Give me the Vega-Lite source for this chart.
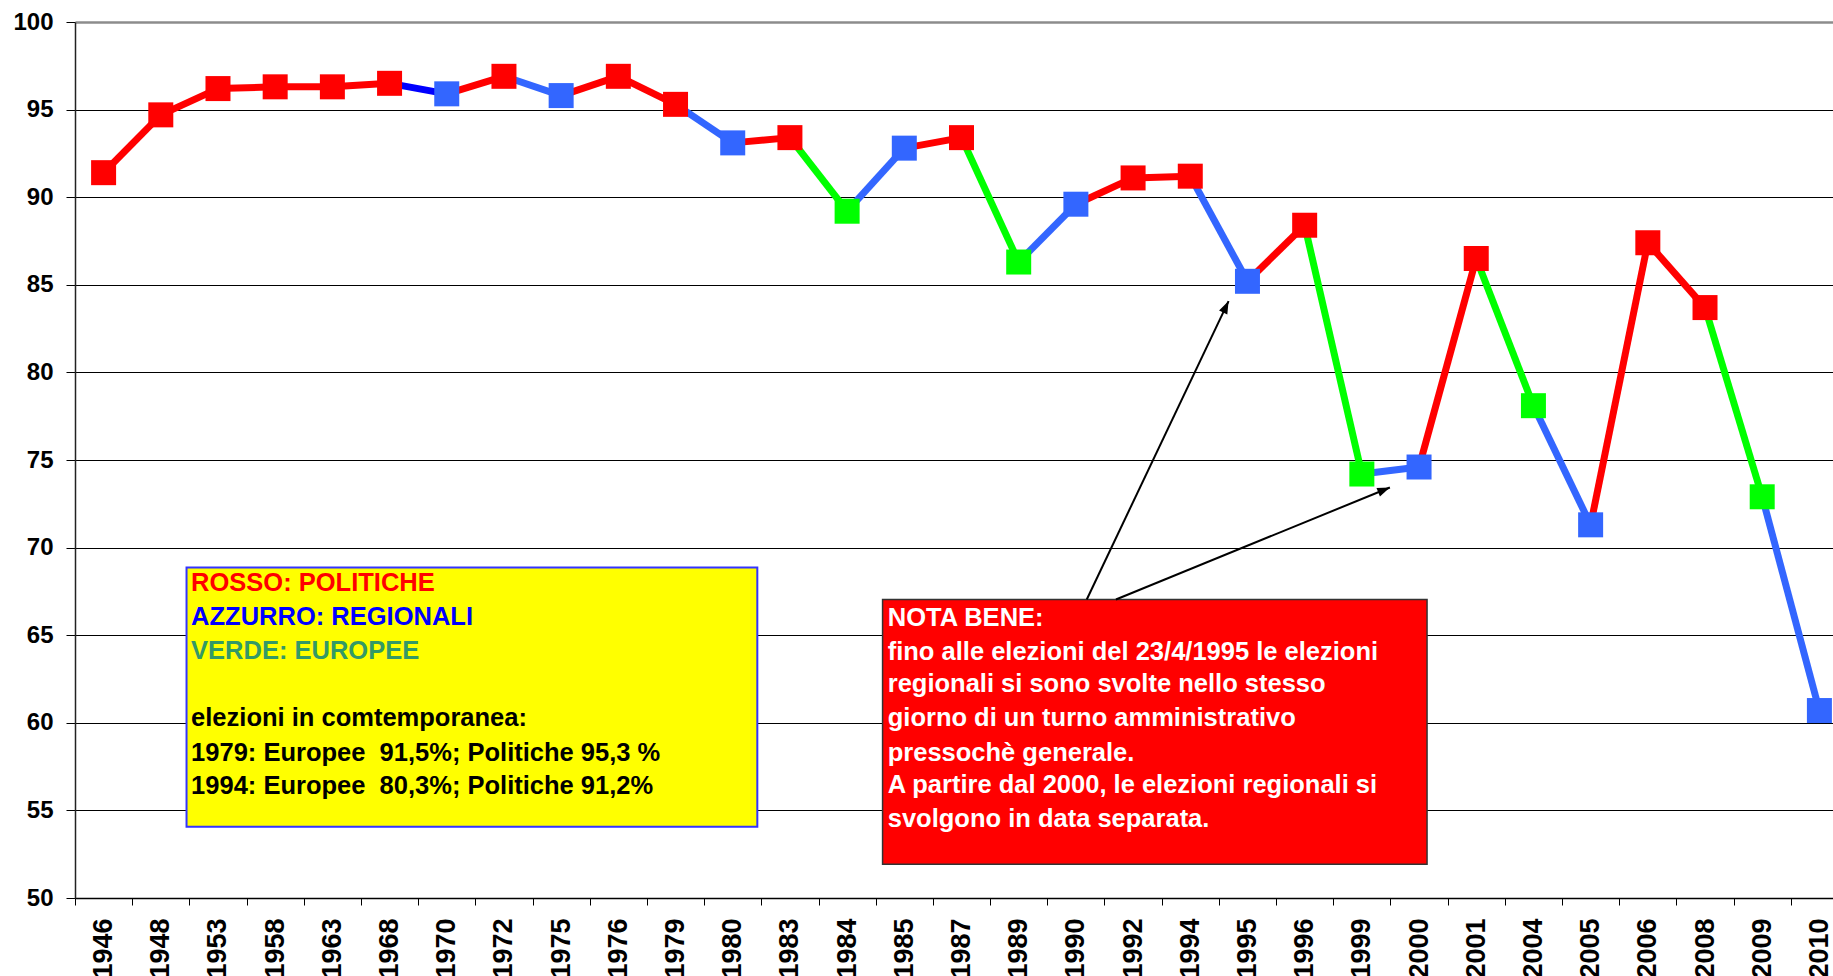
{
  "$schema": "https://vega.github.io/schema/vega-lite/v6.json",
  "autosize": {"type": "none"},
  "padding": {"left": 75, "top": 22, "right": -15, "bottom": 78},
  "width": 1773,
  "height": 876,
  "background": "#FFFFFF",
  "title": {
    "text": "TOSCANA: PERCENTUALE DEI VOTANTI ALLE ELEZIONI POLITICHE, REGIONALI ED EUROPEE (1946-2010)",
    "font": "Liberation Sans",
    "fontSize": 28.5,
    "fontWeight": "bold",
    "color": "#000000",
    "anchor": "middle",
    "frame": "group",
    "baseline": "alphabetic",
    "offset": 3,
    "dx": -31,
    "dy": 1
  },
  "config": {
    "view": {"stroke": null},
    "axisX": {
      "labelAngle": 270,
      "labelFont": "Liberation Sans",
      "labelFontSize": 27,
      "labelFontWeight": "bold",
      "labelColor": "#000000",
      "labelOverlap": false,
      "labelBound": false,
      "tickBand": "extent",
      "tickSize": 7,
      "tickColor": "#000000",
      "tickWidth": 1,
      "domainColor": "#000000",
      "domainWidth": 1.5,
      "labelPadding": 13,
      "grid": false
    },
    "axisY": {
      "labelFont": "Liberation Sans",
      "labelFontSize": 24,
      "labelFontWeight": "bold",
      "labelColor": "#000000",
      "tickSize": 9,
      "tickColor": "#000000",
      "tickWidth": 1,
      "domainColor": "#222222",
      "domainWidth": 1.5,
      "labelPadding": 13,
      "grid": true,
      "gridOpacity": 1
    },
    "text": {"font": "Liberation Sans", "fontSize": 25.5, "fontWeight": "bold", "align": "left", "baseline": "middle"}
  },
  "datasets": {
    "votes": [
      {"year": "1946", "value": 91.4, "type": "politiche"},
      {"year": "1948", "value": 94.7, "type": "politiche"},
      {"year": "1953", "value": 96.2, "type": "politiche"},
      {"year": "1958", "value": 96.3, "type": "politiche"},
      {"year": "1963", "value": 96.3, "type": "politiche"},
      {"year": "1968", "value": 96.5, "type": "politiche"},
      {"year": "1970", "value": 95.9, "type": "regionali"},
      {"year": "1972", "value": 96.9, "type": "politiche"},
      {"year": "1975", "value": 95.8, "type": "regionali"},
      {"year": "1976", "value": 96.9, "type": "politiche"},
      {"year": "1979", "value": 95.3, "type": "politiche"},
      {"year": "1980", "value": 93.1, "type": "regionali"},
      {"year": "1983", "value": 93.4, "type": "politiche"},
      {"year": "1984", "value": 89.2, "type": "europee"},
      {"year": "1985", "value": 92.8, "type": "regionali"},
      {"year": "1987", "value": 93.4, "type": "politiche"},
      {"year": "1989", "value": 86.3, "type": "europee"},
      {"year": "1990", "value": 89.6, "type": "regionali"},
      {"year": "1992", "value": 91.1, "type": "politiche"},
      {"year": "1994", "value": 91.2, "type": "politiche"},
      {"year": "1995", "value": 85.2, "type": "regionali"},
      {"year": "1996", "value": 88.4, "type": "politiche"},
      {"year": "1999", "value": 74.2, "type": "europee"},
      {"year": "2000", "value": 74.6, "type": "regionali"},
      {"year": "2001", "value": 86.5, "type": "politiche"},
      {"year": "2004", "value": 78.1, "type": "europee"},
      {"year": "2005", "value": 71.3, "type": "regionali"},
      {"year": "2006", "value": 87.4, "type": "politiche"},
      {"year": "2008", "value": 83.7, "type": "politiche"},
      {"year": "2009", "value": 72.9, "type": "europee"},
      {"year": "2010", "value": 60.7, "type": "regionali"}
    ],
    "arrows": [
      {"target": "1995", "x0": 17.69, "y0": 67.04, "x1": 20.17, "y1": 84.07},
      {"target": "2000", "x0": 18.2, "y0": 67.04, "x1": 22.99, "y1": 73.43}
    ]
  },
  "resolve": {"scale": {"x": "independent", "y": "independent"}},
  "layer": [
    {
      "data": {"name": "votes"},
      "transform": [
        {"window": [{"op": "lag", "field": "value", "as": "prev_value"}, {"op": "lag", "field": "year", "as": "prev_year"}], "sort": [{"field": "year", "order": "ascending"}]}
      ],
      "encoding": {
        "x": {"field": "year", "type": "ordinal", "title": null, "scale": {"type": "band", "paddingInner": 0, "paddingOuter": 0}},
        "y": {
          "field": "value", "type": "quantitative", "title": null,
          "scale": {"domain": [50, 100], "nice": false, "zero": false},
          "axis": {
            "values": [50, 55, 60, 65, 70, 75, 80, 85, 90, 95, 100],
            "gridColor": {"condition": {"test": "datum.value === 100", "value": "#8C8C8C"}, "value": "#000000"},
            "gridWidth": {"condition": {"test": "datum.value === 100", "value": 2.5}, "value": 1}
          }
        }
      },
      "layer": [
        {
          "transform": [{"filter": "datum.prev_year != null"}],
          "mark": {"type": "rule", "strokeWidth": 7, "strokeCap": "butt"},
          "encoding": {
            "x2": {"field": "prev_year"},
            "y2": {"field": "prev_value"},
            "color": {
              "condition": {"test": "datum.year === '1970'", "value": "#0000FF"},
              "field": "type", "type": "nominal",
              "scale": {"domain": ["politiche", "regionali", "europee"], "range": ["#FF0000", "#3366FF", "#00FF00"]},
              "legend": null
            }
          }
        },
        {
          "mark": {"type": "point", "shape": "square", "filled": true, "size": 625, "opacity": 1, "strokeWidth": 0},
          "encoding": {
            "color": {
              "field": "type", "type": "nominal",
              "scale": {"domain": ["politiche", "regionali", "europee"], "range": ["#FF0000", "#3366FF", "#00FF00"]},
              "legend": null
            }
          }
        }
      ]
    },
    {
      "encoding": {
        "x": {"field": "x0", "type": "quantitative", "scale": {"domain": [0, 31], "nice": false, "zero": false}, "axis": null},
        "y": {"field": "y0", "type": "quantitative", "scale": {"domain": [50, 100], "nice": false, "zero": false}, "axis": null}
      },
      "layer": [
        {
          "data": {"values": [{"box": "legenda", "x0": 1.95, "x1": 11.93, "y0": 54.07, "y1": 68.86}]},
          "mark": {"type": "rect", "fill": "#FFFF00", "stroke": "#3333FF", "strokeWidth": 2},
          "encoding": {"x2": {"field": "x1"}, "y2": {"field": "y1"}}
        },
        {
          "data": {"values": [{"box": "nota", "x0": 14.12, "x1": 23.64, "y0": 51.92, "y1": 67.04}]},
          "mark": {"type": "rect", "fill": "#FF0000", "stroke": "#333333", "strokeWidth": 1.5},
          "encoding": {"x2": {"field": "x1"}, "y2": {"field": "y1"}}
        },
        {
          "data": {"values": [{"x0": 2.03, "y0": 67.99, "text": "ROSSO: POLITICHE"}]},
          "mark": {"type": "text", "color": "#FF0000"},
          "encoding": {"text": {"field": "text"}}
        },
        {
          "data": {"values": [{"x0": 2.03, "y0": 66.05, "text": "AZZURRO: REGIONALI"}]},
          "mark": {"type": "text", "color": "#0000FF"},
          "encoding": {"text": {"field": "text"}}
        },
        {
          "data": {"values": [{"x0": 2.03, "y0": 64.11, "text": "VERDE: EUROPEE"}]},
          "mark": {"type": "text", "color": "#339966"},
          "encoding": {"text": {"field": "text"}}
        },
        {
          "data": {"values": [
            {"x0": 2.03, "y0": 60.25, "text": "elezioni in comtemporanea:"},
            {"x0": 2.03, "y0": 58.30, "text": "1979: Europee\u00a0 91,5%; Politiche 95,3 %"},
            {"x0": 2.03, "y0": 56.40, "text": "1994: Europee\u00a0 80,3%; Politiche 91,2%"}
          ]},
          "mark": {"type": "text", "color": "#000000"},
          "encoding": {"text": {"field": "text"}}
        },
        {
          "data": {"values": [
            {"x0": 14.21, "y0": 66.01, "text": "NOTA BENE:"},
            {"x0": 14.21, "y0": 64.05, "text": "fino alle elezioni del 23/4/1995 le elezioni"},
            {"x0": 14.21, "y0": 62.19, "text": "regionali si sono svolte nello stesso"},
            {"x0": 14.21, "y0": 60.28, "text": "giorno di un turno amministrativo"},
            {"x0": 14.21, "y0": 58.30, "text": "pressochè generale."},
            {"x0": 14.21, "y0": 56.44, "text": "A partire dal 2000, le elezioni regionali si"},
            {"x0": 14.21, "y0": 54.53, "text": "svolgono in data separata."}
          ]},
          "mark": {"type": "text", "color": "#FFFFFF"},
          "encoding": {"text": {"field": "text"}}
        },
        {
          "data": {"name": "arrows"},
          "mark": {"type": "rule", "color": "#000000", "strokeWidth": 2},
          "encoding": {"x2": {"field": "x1"}, "y2": {"field": "y1"}}
        },
        {
          "data": {"name": "arrows"},
          "transform": [{"filter": "datum.target === '1995'"}],
          "mark": {"type": "point", "shape": "M0,0L-0.65,1.8L0.65,1.8Z", "filled": true, "color": "#000000", "opacity": 1, "size": 196, "angle": 25.4},
          "encoding": {"x": {"field": "x1", "type": "quantitative"}, "y": {"field": "y1", "type": "quantitative"}}
        },
        {
          "data": {"name": "arrows"},
          "transform": [{"filter": "datum.target === '2000'"}],
          "mark": {"type": "point", "shape": "M0,0L-0.65,1.8L0.65,1.8Z", "filled": true, "color": "#000000", "opacity": 1, "size": 196, "angle": 67.7},
          "encoding": {"x": {"field": "x1", "type": "quantitative"}, "y": {"field": "y1", "type": "quantitative"}}
        }
      ]
    }
  ]
}
